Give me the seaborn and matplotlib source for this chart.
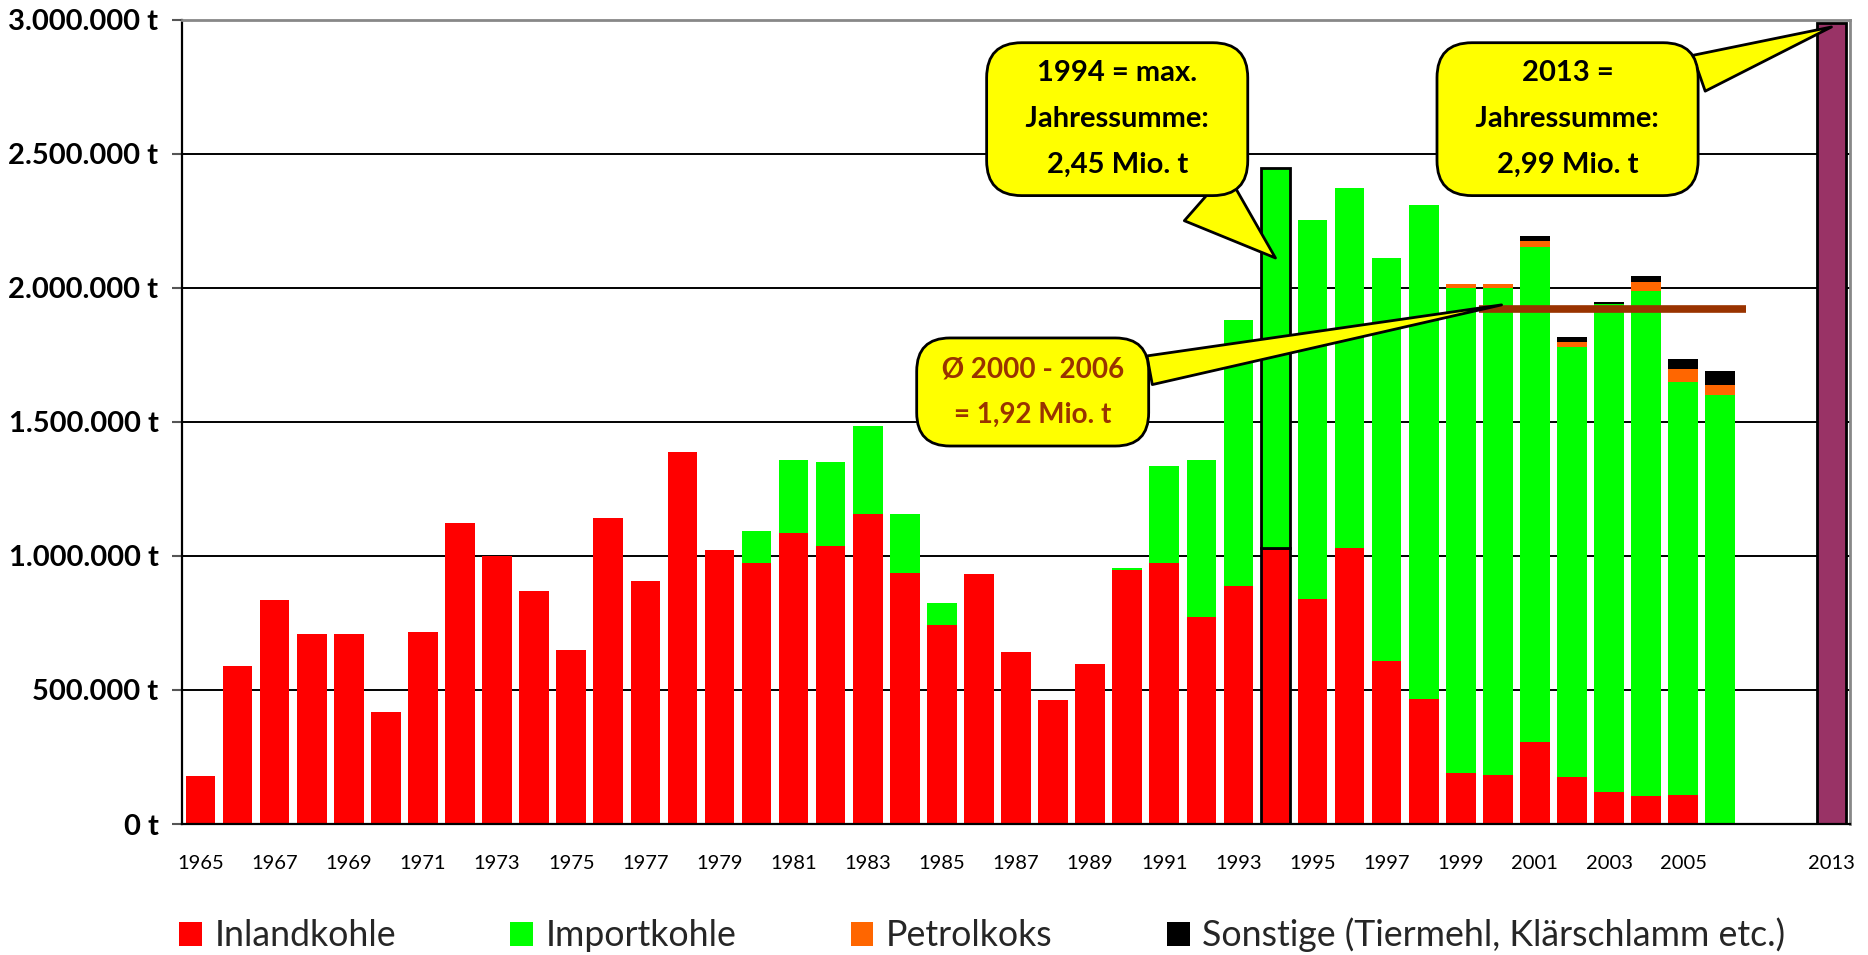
import numpy as np
import pandas as pd
import matplotlib
matplotlib.use("Agg")
import matplotlib.pyplot as plt
from matplotlib.patches import Patch
import seaborn as sns

# Jahre 1965 - 2006 (Tonnen je Brennstoff)
years = list(range(1965, 2007))
inland = [179000, 589000, 837000, 710000, 710000, 419000, 718000, 1122000, 999000, 868000,
          650000, 1140000, 905000, 1387000, 1024000, 975000, 1087000, 1036000, 1155000, 938000,
          743000, 934000, 642000, 462000, 597000, 946000, 975000, 774000, 887000, 1028000,
          841000, 1028000, 609000, 466000, 189000, 183000, 306000, 175000, 119000, 103000,
          109000, 0]
importkohle = [0, 0, 0, 0, 0, 0, 0, 0, 0, 0,
               0, 0, 0, 0, 0, 120000, 271000, 314000, 330000, 217000,
               80000, 0, 0, 0, 0, 10000, 360000, 584000, 993000, 1421000,
               1413000, 1346000, 1502000, 1844000, 1810000, 1816000, 1848000, 1606000, 1822000, 1886000,
               1542000, 1601000]
petrolkoks = [0] * 34 + [15000, 15000, 21000, 19000, 0, 32000, 48000, 38000]
sonstige = [0] * 36 + [19000, 19000, 5000, 23000, 37000, 52000]

# Jahr 2013 und Durchschnitt 2000 - 2006
year_2013 = "2013"
total_2013 = 2990000
avg_value = 1920000
avg_from, avg_to = "2000", "2006"
highlight_year = "1994"

slots = [str(y) for y in years] + ["leer1", "leer2", year_2013]
tick_pos = list(range(0, len(slots), 2))
tick_labels = [slots[i] if slots[i].isdigit() else "" for i in tick_pos]

legend_names = ["Inlandkohle", "Importkohle", "Petrolkoks", "Sonstige (Tiermehl, Klärschlamm etc.)"]
colors = ["#FF0000", "#00FF00", "#FF6600", "#000000"]

df = pd.DataFrame({"jahr": [str(y) for y in years], "inland": inland, "import": importkohle,
                   "petrol": petrolkoks, "sonst": sonstige})

sns.set_theme(style="white")
plt.rcParams["font.family"] = ["Lato", "DejaVu Sans"]

fig = plt.figure(figsize=(18.68, 9.55), dpi=100)
ax = fig.add_axes([182 / 1868, 131 / 955, (1850 - 182) / 1868, (824 - 20) / 955])

# gestapelte Balken
bottom = np.zeros(len(df))
for col, c in zip(["inland", "import", "petrol", "sonst"], colors):
    sns.barplot(data=df, x="jahr", y=col, order=slots, color=c, saturation=1, width=0.8,
                errorbar=None, bottom=bottom, linewidth=0, ax=ax)
    bottom = bottom + df[col].to_numpy()

# 1994 hervorheben
hi = df.index[df["jahr"] == highlight_year][0]
for cont in ax.containers[:2]:
    cont[hi].set_edgecolor("black")
    cont[hi].set_linewidth(2)

sns.barplot(x=[year_2013], y=[total_2013], order=slots, color="#993366", saturation=1,
            width=0.8, errorbar=None, edgecolor="black", linewidth=2, ax=ax)

# Durchschnittslinie
ax.hlines(avg_value, slots.index(avg_from) - 0.5, slots.index(avg_to) + 0.7,
          color="#993300", lw=5.5, zorder=4)

ax.set_ylim(0, 3000000)
ax.set_xlim(-0.5, len(slots) - 0.5)
ax.set_xlabel("")
ax.set_ylabel("")
ax.set_yticks(np.arange(0, 3000001, 500000))
ax.set_yticklabels([f"{v:,.0f}".replace(",", ".") + " t" for v in np.arange(0, 3000001, 500000)],
                   fontsize=21, fontweight="bold")
ax.set_xticks(tick_pos)
ax.set_xticklabels(tick_labels, fontsize=14.5)
ax.set_xticks(np.arange(-0.5, len(slots), 1), minor=True)
ax.tick_params(axis="x", which="major", length=0, pad=22, colors="black")
ax.tick_params(axis="x", which="minor", length=9, width=1.5, color="black", direction="out")
ax.tick_params(axis="y", length=7, width=1.5, color="#555555", pad=10, labelcolor="black", left=True)

ax.set_axisbelow(True)
ax.yaxis.grid(True, color="black", lw=1.4)
ax.xaxis.grid(False)
for s in ["left", "bottom"]:
    ax.spines[s].set_color("black")
    ax.spines[s].set_linewidth(1.6)
for s in ["top", "right"]:
    ax.spines[s].set_color("#888888")
    ax.spines[s].set_linewidth(2)
    ax.spines[s].set_visible(True)

# Sprechblasen
def callout(text, xy, xytext, size, tw, pad, color="black"):
    ax.annotate(text, xy=xy, xytext=xytext, ha="center", va="center", fontsize=size,
                fontweight="bold", color=color, linespacing=1.95, zorder=6,
                bbox=dict(boxstyle=f"round,pad={pad},rounding_size=1.2", fc="#FFFF00", ec="black", lw=2),
                arrowprops=dict(arrowstyle=f"wedge,tail_width={tw},shrink_factor=0.5",
                                fc="#FFFF00", ec="black", lw=2, shrinkA=0, shrinkB=0))

callout("1994 = max.\n   Jahressumme:   \n2,45 Mio. t", (slots.index("1994"), 2112000),
        (24.73, 2630000), 21, 2.2, 0.6)
callout("2013 =\n   Jahressumme:   \n2,99 Mio. t", (slots.index(year_2013), 2974000),
        (36.88, 2630000), 21, 1.3, 0.6)
callout(" Ø 2000 - 2006 \n= 1,92 Mio. t", (35.1, 1937000),
        (22.45, 1612000), 20, 1.05, 0.65, color="#993300")

handles = [Patch(facecolor=c, edgecolor="none") for c in colors]
fig.legend(handles, legend_names, loc="center left", bbox_to_anchor=(179 / 1868, 1 - 935 / 955),
           ncol=4, frameon=False, fontsize=25.7, handlelength=0.64, handleheight=0.64,
           handletextpad=0.35, columnspacing=3.2, borderpad=0, borderaxespad=0)

fig.savefig("out.png", dpi=100)
